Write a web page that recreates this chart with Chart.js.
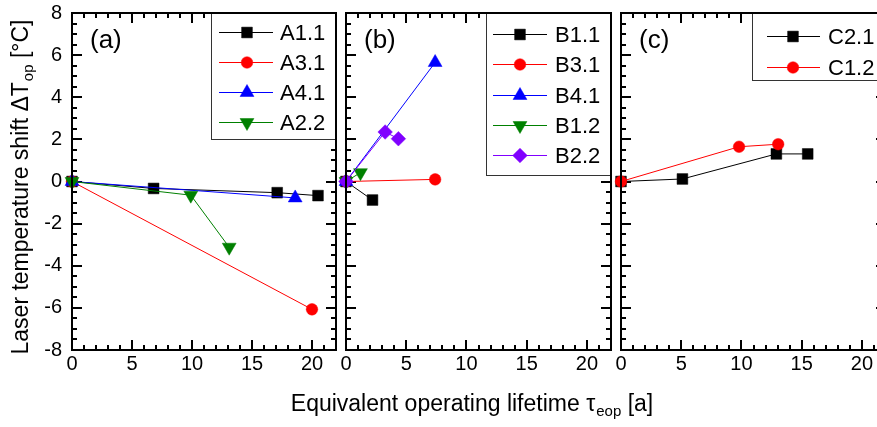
<!DOCTYPE html>
<html>
<head>
<meta charset="utf-8">
<script src="https://cdn.jsdelivr.net/npm/chart.js@4.4.1/dist/chart.umd.min.js"></script>
<style>
html,body{margin:0;padding:0;background:#fff;overflow:hidden;}
#wrap{position:relative;width:877px;height:427px;overflow:hidden;background:#fff;}
#wrap canvas{position:absolute;left:0;top:0;width:900px;height:427px;}
</style>
</head>
<body>
<div id="wrap">
<canvas id="ca" width="900" height="427"></canvas>
<canvas id="cb" width="900" height="427"></canvas>
<canvas id="cc" width="900" height="427"></canvas>
</div>
<script>
// ---------------- data ----------------
const xTickValues = [0, 5, 10, 15, 20];
const yTickValues = [-8, -6, -4, -2, 0, 2, 4, 6, 8];
const panelLetters = ['(a)', '(b)', '(c)'];

// panel (a)
const a11X = [0, 6.8, 17.1, 20.5];
const a11Y = [0, -0.33, -0.53, -0.67];
const a31X = [0, 20.0];
const a31Y = [0, -6.07];
const a41X = [0, 18.6];
const a41Y = [0, -0.78];
const a22X = [0, 9.9, 13.1];
const a22Y = [0, -0.65, -3.12];

// panel (b)
const b11X = [0, 2.2];
const b11Y = [0, -0.88];
const b31X = [0, 7.4];
const b31Y = [0, 0.1];
const b41X = [0, 7.4];
const b41Y = [0, 5.65];
const b12X = [0, 1.2];
const b12Y = [0, 0.42];
const b22X = [0, 3.25, 4.35];
const b22Y = [0, 2.35, 2.03];

// panel (c)
const c21X = [0, 5.1, 12.9, 15.5];
const c21Y = [0, 0.12, 1.31, 1.31];
const c12X = [0, 9.8, 13.05];
const c12Y = [0, 1.65, 1.77];

// ---------------- styles ----------------
const FONT = '"Liberation Sans", Arial, Helvetica, sans-serif';
const ST = {
  sq: {color: '#000000', pointStyle: 'rect', radius: 7.6, rotation: 0},
  ci: {color: '#ff0000', pointStyle: 'circle', radius: 5.8, rotation: 0},
  up: {color: '#0000ff', pointStyle: 'triangle', radius: 8, rotation: 0},
  dn: {color: '#008000', pointStyle: 'triangle', radius: 8, rotation: 180},
  di: {color: '#8000ff', pointStyle: 'rectRot', radius: 7.3, rotation: 0}
};

function ds(label, xs, ys, st, i) {
  return {
    label: label,
    data: xs.map((x, k) => ({x: x, y: ys[k]})),
    order: -i,
    xAxisID: 'x',
    yAxisID: 'y',
    borderColor: st.color,
    backgroundColor: st.color,
    borderWidth: 1,
    pointStyle: st.pointStyle,
    pointRadius: st.radius,
    pointHoverRadius: st.radius,
    pointRotation: st.rotation,
    pointBackgroundColor: st.color,
    pointBorderColor: st.color,
    pointBorderWidth: 0.5,
    tension: 0,
    clip: false
  };
}

const TOP = 13, BOTTOM = 350, CW = 900, CH = 427;
const YAXW = 60, XAXH = 45;
const X_MIN = 0, X_MAX = 22, Y_MIN = -8, Y_MAX = 8;
const MAJ = 10, MNR = 5;

const PANELS = [
  {
    id: 'ca', left: 72, right: 336, showY: true, letter: panelLetters[0],
    datasets: [
      ds('A1.1', a11X, a11Y, ST.sq, 0),
      ds('A3.1', a31X, a31Y, ST.ci, 1),
      ds('A4.1', a41X, a41Y, ST.up, 2),
      ds('A2.2', a22X, a22Y, ST.dn, 3)
    ],
    legend: {left: 211, bottom: 139, y0: 32, dy: 30, l1: 219, l2: 273, m: 247, t: 280}
  },
  {
    id: 'cb', left: 346, right: 611, showY: false, letter: panelLetters[1],
    datasets: [
      ds('B1.1', b11X, b11Y, ST.sq, 0),
      ds('B3.1', b31X, b31Y, ST.ci, 1),
      ds('B4.1', b41X, b41Y, ST.up, 2),
      ds('B1.2', b12X, b12Y, ST.dn, 3),
      ds('B2.2', b22X, b22Y, ST.di, 4)
    ],
    legend: {left: 486, bottom: 175, y0: 34, dy: 30.3, l1: 493, l2: 547, m: 520, t: 555}
  },
  {
    id: 'cc', left: 621, right: 886, showY: false, letter: panelLetters[2],
    datasets: [
      ds('C2.1', c21X, c21Y, ST.sq, 0),
      ds('C1.2', c12X, c12Y, ST.ci, 1)
    ],
    legend: {left: 752, bottom: 80, y0: 36, dy: 31, l1: 767, l2: 820, m: 793, t: 828}
  }
];

// ---------------- axes (major + minor, inward ticks, all four sides) ----------------
function zeroPad(s) { s.paddingLeft = 0; s.paddingRight = 0; s.paddingTop = 0; s.paddingBottom = 0; }

function stepTicks(min, max, step) {
  const out = [];
  const n = Math.round((max - min) / step);
  for (let k = 0; k <= n; k++) out.push({value: min + k * step});
  return out;
}

function makeAxis(o) {
  const horiz = o.position === 'top' || o.position === 'bottom';
  return {
    type: 'linear',
    position: o.position,
    min: horiz ? X_MIN : Y_MIN,
    max: horiz ? X_MAX : Y_MAX,
    weight: o.weight || 0,
    afterBuildTicks(s) { s.ticks = o.ticks(); },
    afterFit(s) {
      if (horiz) s.height = o.size || 0; else s.width = o.size || 0;
      zeroPad(s);
    },
    grid: {
      display: true, drawOnChartArea: false, drawTicks: true,
      tickLength: -o.len, tickWidth: 2, tickColor: '#000000', color: '#000000', lineWidth: 2
    },
    border: {display: !!o.border, color: '#000000', width: 2},
    ticks: {
      display: !!o.labels,
      color: '#000000',
      font: {family: FONT, size: 20},
      padding: o.pad || 0,
      maxRotation: 0,
      autoSkip: false
    }
  };
}

function buildScales(showY) {
  const majX = () => xTickValues.map(v => ({value: v}));
  const minX = () => stepTicks(X_MIN, X_MAX, 1);
  const majY = () => yTickValues.map(v => ({value: v}));
  const minY = () => stepTicks(Y_MIN, Y_MAX, 0.5);
  return {
    x: makeAxis({position: 'bottom', ticks: majX, len: MAJ, labels: true, pad: 2 + MAJ, size: XAXH, weight: 1, border: true}),
    xMinor: makeAxis({position: 'bottom', ticks: minX, len: MNR}),
    xTop: makeAxis({position: 'top', ticks: majX, len: MAJ, weight: 1, border: true}),
    xTopMinor: makeAxis({position: 'top', ticks: minX, len: MNR}),
    y: makeAxis({position: 'left', ticks: majY, len: MAJ, labels: showY, pad: 10 + MAJ, size: YAXW, weight: 1, border: true}),
    yMinor: makeAxis({position: 'left', ticks: minY, len: MNR}),
    yRight: makeAxis({position: 'right', ticks: majY, len: MAJ, weight: 1, border: true}),
    yRightMinor: makeAxis({position: 'right', ticks: minY, len: MNR})
  };
}

// ---------------- legend, panel letter, axis titles ----------------
function drawFrame(ctx, ca) {
  ctx.save();
  ctx.strokeStyle = '#000';
  ctx.lineWidth = 2;
  ctx.strokeRect(ca.left, ca.top, ca.right - ca.left, ca.bottom - ca.top);
  ctx.restore();
}

function drawLegend(chart, lg) {
  const ctx = chart.ctx, ca = chart.chartArea;
  ctx.save();
  ctx.fillStyle = '#fff';
  ctx.fillRect(lg.left, ca.top, ca.right - lg.left, lg.bottom - ca.top);
  ctx.strokeStyle = '#333';
  ctx.lineWidth = 1;
  ctx.strokeRect(lg.left + 0.5, ca.top + 0.5, ca.right - lg.left, lg.bottom - ca.top);
  ctx.font = '22px ' + FONT;
  ctx.textBaseline = 'middle';
  ctx.textAlign = 'left';
  chart.data.datasets.forEach((d, i) => {
    const y = Math.round(lg.y0 + i * lg.dy) + 0.5;
    ctx.strokeStyle = d.borderColor;
    ctx.lineWidth = 1;
    ctx.beginPath();
    ctx.moveTo(lg.l1, y);
    ctx.lineTo(lg.l2, y);
    ctx.stroke();
    ctx.fillStyle = d.pointBackgroundColor;
    ctx.strokeStyle = d.pointBorderColor;
    ctx.lineWidth = 0.5;
    Chart.helpers.drawPoint(ctx, {
      pointStyle: d.pointStyle, radius: d.pointRadius,
      rotation: d.pointRotation, borderWidth: 0.5
    }, lg.m, y);
    ctx.fillStyle = '#000';
    ctx.fillText(d.label, lg.t, y + 1);
  });
  ctx.restore();
}

function drawSubText(ctx, main, sub, tail, size, subSize, drop) {
  ctx.textBaseline = 'alphabetic';
  ctx.textAlign = 'left';
  ctx.font = size + 'px ' + FONT;
  const w1 = ctx.measureText(main).width;
  const w3 = ctx.measureText(tail).width;
  ctx.font = subSize + 'px ' + FONT;
  const w2 = ctx.measureText(sub).width;
  const total = w1 + w2 + w3 + 1;
  let x = -total / 2;
  ctx.font = size + 'px ' + FONT;
  ctx.fillText(main, x, 0);
  x += w1 + 1;
  ctx.font = subSize + 'px ' + FONT;
  ctx.fillText(sub, x, drop);
  x += w2;
  ctx.font = size + 'px ' + FONT;
  ctx.fillText(tail, x, 0);
}

const decorPlugin = {
  id: 'decor',
  afterDraw(chart, args, opts) {
    const ctx = chart.ctx, ca = chart.chartArea;
    drawLegend(chart, opts.legend);
    drawFrame(ctx, ca);
    ctx.save();
    ctx.fillStyle = '#000';
    ctx.font = '26px ' + FONT;
    ctx.textBaseline = 'middle';
    ctx.textAlign = 'left';
    ctx.fillText(opts.letter, ca.left + 18, 41);
    ctx.restore();
    if (opts.yTitle) {
      ctx.save();
      ctx.fillStyle = '#000';
      ctx.translate(28, 187);
      ctx.rotate(-Math.PI / 2);
      drawSubText(ctx, 'Laser temperature shift \u0394T', 'op', ' [\u00B0C]', 23, 15, 5);
      ctx.restore();
    }
    if (opts.xTitle) {
      ctx.save();
      ctx.fillStyle = '#000';
      ctx.translate(472, 411);
      drawSubText(ctx, 'Equivalent operating lifetime \u03C4', 'eop', ' [a]', 23, 15, 5);
      ctx.restore();
    }
  }
};

// ---------------- charts ----------------
PANELS.forEach((p, idx) => {
  new Chart(document.getElementById(p.id), {
    type: 'line',
    data: {datasets: p.datasets},
    options: {
      responsive: false,
      animation: false,
      devicePixelRatio: 1,
      events: [],
      layout: {padding: {left: p.left - YAXW, right: CW - p.right, top: TOP, bottom: CH - BOTTOM - XAXH}},
      plugins: {
        legend: {display: false},
        tooltip: {enabled: false},
        decor: {legend: p.legend, letter: p.letter, yTitle: idx === 0, xTitle: idx === 1}
      },
      scales: buildScales(p.showY)
    },
    plugins: [decorPlugin]
  });
});
</script>
</body>
</html>
